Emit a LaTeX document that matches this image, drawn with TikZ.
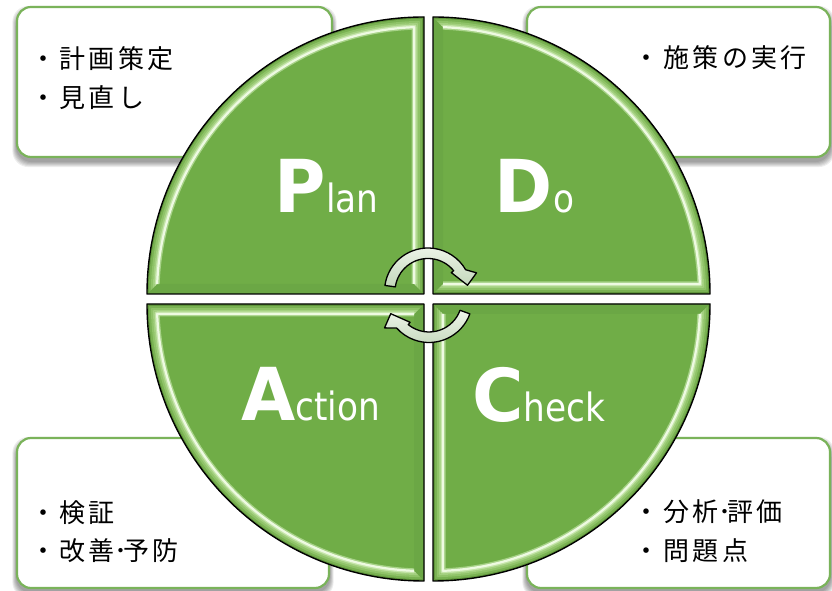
\documentclass[tikz,border=0pt]{standalone}
\usepackage{fontspec}
\newfontfamily\jp{Noto Sans CJK JP}[LetterSpace=13]
\newfontfamily\capfont{DejaVu Sans}[FakeStretch=0.96]
\newfontfamily\lowfont{DejaVu Sans}[FakeStretch=0.88]
\usetikzlibrary{backgrounds,calc}
\definecolor{pgreen}{HTML}{70AD47}
\definecolor{gface}{HTML}{6BA745}
\definecolor{bandA}{HTML}{60963B}
\definecolor{bandB}{HTML}{7AB253}
\definecolor{bandC}{HTML}{8FC368}
\definecolor{bandD}{HTML}{A3D07F}
\definecolor{bandE}{HTML}{BADD9D}
\definecolor{hlglow}{HTML}{CDEBB4}
\definecolor{hl}{HTML}{EEFAE2}
\definecolor{boxgreen}{HTML}{7AB35A}
\definecolor{arrowtop}{HTML}{EEF5EA}
\definecolor{arrowbot}{HTML}{C3D7BA}
\newcommand\bigc[1]{{\capfont\bfseries\fontsize{73}{73}\selectfont #1}}
\newcommand\smallw[1]{{\lowfont\fontsize{39}{39}\selectfont #1}}
\newcommand\hdot{\kern-0.5pt･\kern-4pt}
\tikzset{
  box/.style={draw=boxgreen, line width=2.2, fill=white, rounded corners=14, inner sep=0},
  jptext/.style={anchor=base west, inner sep=0, font=\jp\fontsize{26}{26}\selectfont},
  word/.style={anchor=base, inner sep=0, text=white},
  cyc/.style={draw=black, line width=1.3, top color=arrowtop, bottom color=arrowbot, line join=round},
  pics/quad/.style={code={
    % base fill
    \fill[pgreen] (0,0) -- (-277,0) arc[start angle=180,end angle=90,radius=277] -- cycle;
    % unlit face (bottom)
    \fill[gface] (0,0) -- (-277,0) -- (-266.81,10) -- (-10,10) -- cycle;
    % lit arc face
    \begin{scope}
      \clip (-277,0) arc[start angle=180,end angle=90,radius=277] -- (-10,266.81)
            arc[start angle=92.146,end angle=177.854,radius=267] -- cycle;
      \draw[line width=2.3, bandA] (0,0) circle[radius=276];
      \draw[line width=2.3, bandB] (0,0) circle[radius=274];
      \draw[line width=2.3, bandC] (0,0) circle[radius=272];
      \draw[line width=2.3, bandD] (0,0) circle[radius=270];
      \draw[line width=2.3, bandE] (0,0) circle[radius=268];
    \end{scope}
    % lit straight face
    \begin{scope}
      \clip (0,277) -- (0,0) -- (-10,10) -- (-10,266.81) -- cycle;
      \draw[line width=2.3, bandA] (-1,-5) -- (-1,290);
      \draw[line width=2.3, bandB] (-3,-5) -- (-3,290);
      \draw[line width=2.3, bandC] (-5,-5) -- (-5,290);
      \draw[line width=2.3, bandD] (-7,-5) -- (-7,290);
      \draw[line width=2.3, bandE] (-9,-5) -- (-9,290);
    \end{scope}
    % highlight line
    \draw[line width=5, hlglow, opacity=0.6, line join=round]
      (-266.81,10) arc[start angle=177.854,end angle=92.146,radius=267] -- (-10,10);
    \draw[line width=2.2, hl, line join=round]
      (-266.81,10) arc[start angle=177.854,end angle=92.146,radius=267] -- (-10,10);
    % outline
    \draw[line width=1.4, line join=round] (0,0) -- (-277,0) arc[start angle=180,end angle=90,radius=277] -- cycle;
  }}
}
\begin{document}
\begin{tikzpicture}[x=1pt,y=1pt]
\useasboundingbox (0,0) rectangle (832,591);

% text boxes
\node[box, minimum width=315, minimum height=150] (tlbox) at (174.5,509) {};
\node[box, minimum width=303, minimum height=150] (trbox) at (678.5,509) {};
\node[box, minimum width=312, minimum height=150] (blbox) at (173,78) {};
\node[box, minimum width=303, minimum height=150] (brbox) at (678.5,78) {};

\begin{scope}[on background layer]
  \fill[white] (0,0) rectangle (832,591);
  \foreach \b in {tlbox,trbox,blbox,brbox}{
    \foreach \e in {1,...,6}{
      \fill[black, opacity=0.07, rounded corners=16]
        ([shift={(-0.7*\e+0.7,-3-\e)}]\b.south west) rectangle ([shift={(0.7*\e-0.7,-6+\e)}]\b.north east);
    }
  }
\end{scope}

% box texts
\node[jptext] (tl1) at (30,522.5) {・計画策定};
\node[jptext] (tl2) at (30,483.5) {・見直し};
\node[jptext] (tr1) at (633.7,523) {・施策の実行};
\node[jptext] (bl1) at (30,68.5) {・検証};
\node[jptext] (bl2) at (30,30.5) {・改善\hdot 予防};
\node[jptext] (br1) at (633.7,69.5) {・分析\hdot 評価};
\node[jptext] (br2) at (633.7,30) {・問題点};

% four quadrants
\pic at (424,297) {quad};
\pic[rotate=-90] at (433,297) {quad};
\pic[rotate=180] at (433,287) {quad};
\pic[rotate=90] at (424,287) {quad};

% cycle arrows
\begin{scope}[shift={(428,299.5)}]
  \path[cyc] (172:43.5) arc[start angle=172,end angle=30,radius=43.5] -- (21:52) -- (9:40)
     -- (39:30) -- (39:33) arc[start angle=39,end angle=172,radius=33] -- cycle;
\end{scope}
\begin{scope}[shift={(429,292)}]
  \path[cyc] (340:43.5) arc[start angle=340,end angle=222,radius=43.5] -- (213:53) -- (201:41)
     -- (231:30) -- (231:33) arc[start angle=231,end angle=340,radius=33] -- cycle;
\end{scope}

% words
\node[word] (plan) at (326.5,378) {\bigc{P}\smallw{lan}};
\node[word] (do) at (534.5,378) {\bigc{D}\smallw{o}};
\node[word] (action) at (310.5,170) {\bigc{A}\smallw{ction}};
\node[word] (check) at (539,169.5) {\bigc{C}\smallw{heck}};
\end{tikzpicture}
\end{document}
